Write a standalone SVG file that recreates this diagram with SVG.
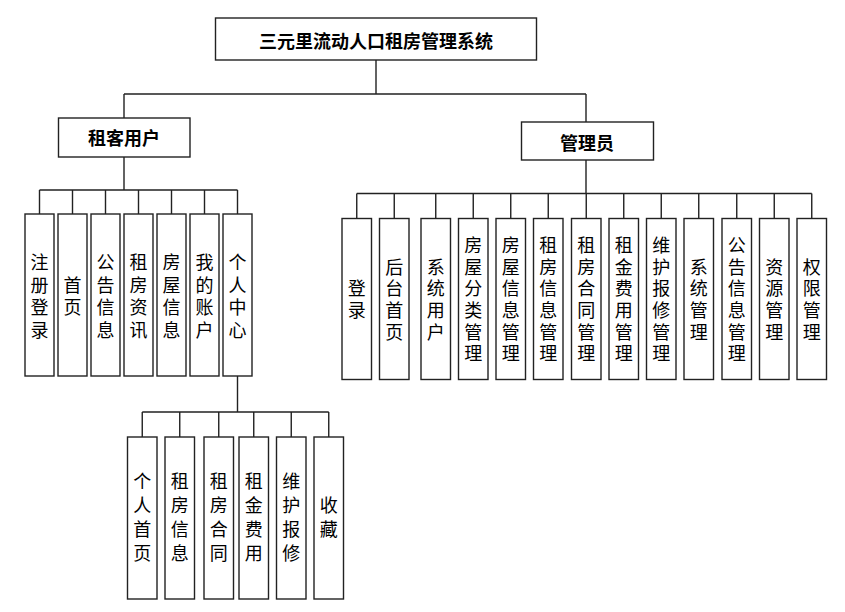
<svg xmlns="http://www.w3.org/2000/svg" width="845" height="612" viewBox="0 0 845 612">
<style>
.box{fill:#fff;stroke:#222;stroke-width:1.4}
.hd{font-family:"Noto Sans CJK SC","Liberation Sans",sans-serif;font-size:18px;font-weight:bold;fill:#000;text-anchor:middle;dominant-baseline:central}
.lf{font-family:"Noto Sans CJK SC","Liberation Sans",sans-serif;font-size:18px;fill:#000;text-anchor:middle;dominant-baseline:central}
.ln{fill:none;stroke:#222;stroke-width:1.4}
</style>
<rect width="845" height="612" fill="#fff"/>
<g id="connectors" class="ln">
<path d="M376 60V94M124 94H586M124 94V118M586 94V122"/>
<path d="M124 157V190M39.5 190H237.5M39.5 190V214M72.5 190V214M105.5 190V214M138.5 190V214M171.5 190V214M204.5 190V214M237.5 190V214"/>
<path d="M237.5 376V412M142.25 412H328.75M142.25 412V437M179.75 412V437M218.75 412V437M253.75 412V437M291.25 412V437M328.75 412V437"/>
<path d="M586 160V193.5M356.75 193.5H811.75M356.75 193.5V218.5M394.25 193.5V218.5M435.75 193.5V218.5M473.25 193.5V218.5M510.75 193.5V218.5M548.25 193.5V218.5M586.25 193.5V218.5M623.75 193.5V218.5M661.25 193.5V218.5M698.75 193.5V218.5M736.75 193.5V218.5M774.25 193.5V218.5M811.75 193.5V218.5"/>
</g>
<g id="root"><rect class="box" x="215.5" y="18" width="321" height="42"/><text class="hd" x="376" y="40">三元里流动人口租房管理系统</text></g>
<g id="tenant"><rect class="box" x="58.5" y="118" width="131.5" height="39"/><text class="hd" x="124" y="137">租客用户</text></g>
<g id="admin"><rect class="box" x="521.5" y="122" width="132" height="38"/><text class="hd" x="587" y="142">管理员</text></g>

<g id="t1"><rect class="box" x="25" y="214" width="29" height="162"/><text class="lf"><tspan x="39.5" y="261.25">注</tspan><tspan x="39.5" y="283.75">册</tspan><tspan x="39.5" y="306.25">登</tspan><tspan x="39.5" y="328.75">录</tspan></text></g>
<g id="t2"><rect class="box" x="58" y="214" width="29" height="162"/><text class="lf"><tspan x="72.5" y="283.75">首</tspan><tspan x="72.5" y="306.25">页</tspan></text></g>
<g id="t3"><rect class="box" x="91" y="214" width="29" height="162"/><text class="lf"><tspan x="105.5" y="261.25">公</tspan><tspan x="105.5" y="283.75">告</tspan><tspan x="105.5" y="306.25">信</tspan><tspan x="105.5" y="328.75">息</tspan></text></g>
<g id="t4"><rect class="box" x="124" y="214" width="29" height="162"/><text class="lf"><tspan x="138.5" y="261.25">租</tspan><tspan x="138.5" y="283.75">房</tspan><tspan x="138.5" y="306.25">资</tspan><tspan x="138.5" y="328.75">讯</tspan></text></g>
<g id="t5"><rect class="box" x="157" y="214" width="29" height="162"/><text class="lf"><tspan x="171.5" y="261.25">房</tspan><tspan x="171.5" y="283.75">屋</tspan><tspan x="171.5" y="306.25">信</tspan><tspan x="171.5" y="328.75">息</tspan></text></g>
<g id="t6"><rect class="box" x="190" y="214" width="29" height="162"/><text class="lf"><tspan x="204.5" y="261.25">我</tspan><tspan x="204.5" y="283.75">的</tspan><tspan x="204.5" y="306.25">账</tspan><tspan x="204.5" y="328.75">户</tspan></text></g>
<g id="t7"><rect class="box" x="223" y="214" width="29" height="162"/><text class="lf"><tspan x="237.5" y="261.25">个</tspan><tspan x="237.5" y="283.75">人</tspan><tspan x="237.5" y="306.25">中</tspan><tspan x="237.5" y="328.75">心</tspan></text></g>

<g id="c1"><rect class="box" x="127.5" y="437" width="29.5" height="162"/><text class="lf"><tspan x="142.25" y="480">个</tspan><tspan x="142.25" y="504">人</tspan><tspan x="142.25" y="528">首</tspan><tspan x="142.25" y="552">页</tspan></text></g>
<g id="c2"><rect class="box" x="165" y="437" width="29.5" height="162"/><text class="lf"><tspan x="179.75" y="480">租</tspan><tspan x="179.75" y="504">房</tspan><tspan x="179.75" y="528">信</tspan><tspan x="179.75" y="552">息</tspan></text></g>
<g id="c3"><rect class="box" x="204" y="437" width="29.5" height="162"/><text class="lf"><tspan x="218.75" y="480">租</tspan><tspan x="218.75" y="504">房</tspan><tspan x="218.75" y="528">合</tspan><tspan x="218.75" y="552">同</tspan></text></g>
<g id="c4"><rect class="box" x="239" y="437" width="29.5" height="162"/><text class="lf"><tspan x="253.75" y="480">租</tspan><tspan x="253.75" y="504">金</tspan><tspan x="253.75" y="528">费</tspan><tspan x="253.75" y="552">用</tspan></text></g>
<g id="c5"><rect class="box" x="276.5" y="437" width="29.5" height="162"/><text class="lf"><tspan x="291.25" y="480">维</tspan><tspan x="291.25" y="504">护</tspan><tspan x="291.25" y="528">报</tspan><tspan x="291.25" y="552">修</tspan></text></g>
<g id="c6"><rect class="box" x="314" y="437" width="29.5" height="162"/><text class="lf"><tspan x="328.75" y="504">收</tspan><tspan x="328.75" y="528">藏</tspan></text></g>

<g id="a1"><rect class="box" x="342" y="218.5" width="29.5" height="161"/><text class="lf"><tspan x="356.75" y="287">登</tspan><tspan x="356.75" y="309">录</tspan></text></g>
<g id="a2"><rect class="box" x="379.5" y="218.5" width="29.5" height="161"/><text class="lf"><tspan x="394.25" y="265.5">后</tspan><tspan x="394.25" y="287">台</tspan><tspan x="394.25" y="309">首</tspan><tspan x="394.25" y="330.5">页</tspan></text></g>
<g id="a3"><rect class="box" x="421" y="218.5" width="29.5" height="161"/><text class="lf"><tspan x="435.75" y="265.5">系</tspan><tspan x="435.75" y="287">统</tspan><tspan x="435.75" y="309">用</tspan><tspan x="435.75" y="330.5">户</tspan></text></g>
<g id="a4"><rect class="box" x="458.5" y="218.5" width="29.5" height="161"/><text class="lf"><tspan x="473.25" y="244">房</tspan><tspan x="473.25" y="265.5">屋</tspan><tspan x="473.25" y="287">分</tspan><tspan x="473.25" y="309">类</tspan><tspan x="473.25" y="330.5">管</tspan><tspan x="473.25" y="352">理</tspan></text></g>
<g id="a5"><rect class="box" x="496" y="218.5" width="29.5" height="161"/><text class="lf"><tspan x="510.75" y="244">房</tspan><tspan x="510.75" y="265.5">屋</tspan><tspan x="510.75" y="287">信</tspan><tspan x="510.75" y="309">息</tspan><tspan x="510.75" y="330.5">管</tspan><tspan x="510.75" y="352">理</tspan></text></g>
<g id="a6"><rect class="box" x="533.5" y="218.5" width="29.5" height="161"/><text class="lf"><tspan x="548.25" y="244">租</tspan><tspan x="548.25" y="265.5">房</tspan><tspan x="548.25" y="287">信</tspan><tspan x="548.25" y="309">息</tspan><tspan x="548.25" y="330.5">管</tspan><tspan x="548.25" y="352">理</tspan></text></g>
<g id="a7"><rect class="box" x="571.5" y="218.5" width="29.5" height="161"/><text class="lf"><tspan x="586.25" y="244">租</tspan><tspan x="586.25" y="265.5">房</tspan><tspan x="586.25" y="287">合</tspan><tspan x="586.25" y="309">同</tspan><tspan x="586.25" y="330.5">管</tspan><tspan x="586.25" y="352">理</tspan></text></g>
<g id="a8"><rect class="box" x="609" y="218.5" width="29.5" height="161"/><text class="lf"><tspan x="623.75" y="244">租</tspan><tspan x="623.75" y="265.5">金</tspan><tspan x="623.75" y="287">费</tspan><tspan x="623.75" y="309">用</tspan><tspan x="623.75" y="330.5">管</tspan><tspan x="623.75" y="352">理</tspan></text></g>
<g id="a9"><rect class="box" x="646.5" y="218.5" width="29.5" height="161"/><text class="lf"><tspan x="661.25" y="244">维</tspan><tspan x="661.25" y="265.5">护</tspan><tspan x="661.25" y="287">报</tspan><tspan x="661.25" y="309">修</tspan><tspan x="661.25" y="330.5">管</tspan><tspan x="661.25" y="352">理</tspan></text></g>
<g id="a10"><rect class="box" x="684" y="218.5" width="29.5" height="161"/><text class="lf"><tspan x="698.75" y="265.5">系</tspan><tspan x="698.75" y="287">统</tspan><tspan x="698.75" y="309">管</tspan><tspan x="698.75" y="330.5">理</tspan></text></g>
<g id="a11"><rect class="box" x="722" y="218.5" width="29.5" height="161"/><text class="lf"><tspan x="736.75" y="244">公</tspan><tspan x="736.75" y="265.5">告</tspan><tspan x="736.75" y="287">信</tspan><tspan x="736.75" y="309">息</tspan><tspan x="736.75" y="330.5">管</tspan><tspan x="736.75" y="352">理</tspan></text></g>
<g id="a12"><rect class="box" x="759.5" y="218.5" width="29.5" height="161"/><text class="lf"><tspan x="774.25" y="265.5">资</tspan><tspan x="774.25" y="287">源</tspan><tspan x="774.25" y="309">管</tspan><tspan x="774.25" y="330.5">理</tspan></text></g>
<g id="a13"><rect class="box" x="797" y="218.5" width="29.5" height="161"/><text class="lf"><tspan x="811.75" y="265.5">权</tspan><tspan x="811.75" y="287">限</tspan><tspan x="811.75" y="309">管</tspan><tspan x="811.75" y="330.5">理</tspan></text></g>
</svg>
